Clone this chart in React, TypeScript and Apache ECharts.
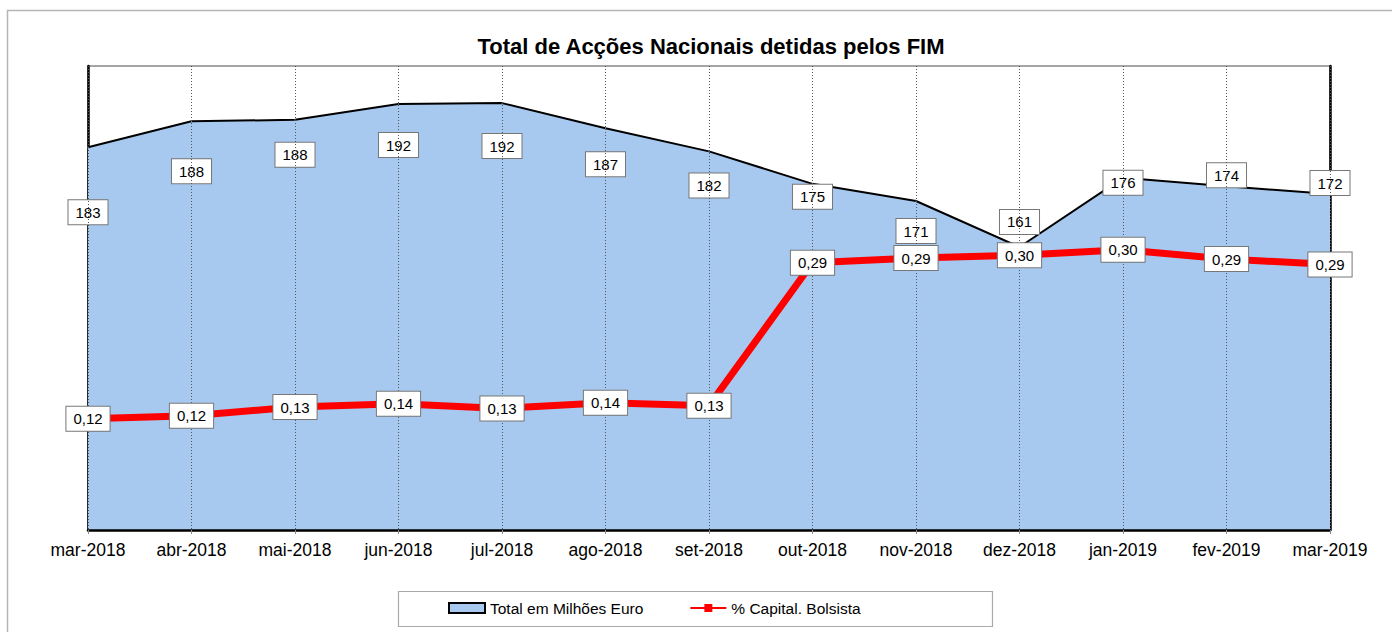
import React, { useEffect, useRef } from "react";
import * as echarts from "echarts";

const categories = [
  "mar-2018", "abr-2018", "mai-2018", "jun-2018", "jul-2018", "ago-2018", "set-2018",
  "out-2018", "nov-2018", "dez-2018", "jan-2019", "fev-2019", "mar-2019",
];
const totalValues = [182.5, 188.1, 188.4, 191.8, 192.0, 186.6, 181.6, 174.6, 170.9, 161.0, 175.9, 174.1, 172.4];
const capitalValues = [0.12, 0.123, 0.1325, 0.136, 0.131, 0.137, 0.134, 0.288, 0.293, 0.296, 0.302, 0.292, 0.286];
// vertical label offsets (px) relative to each point, as placed in the reference
const totalLabelDy = [65, 50, 35, 41, 43, 36, 34, 13, 30, -25, 5, -11, -11];

const FONT = "'Liberation Sans', Arial, Helvetica, sans-serif";

const labelBox = {
  show: true,
  position: "inside" as const,
  backgroundColor: "#ffffff",
  borderColor: "#777777",
  borderWidth: 1,
  padding: [4, 7, 3, 7],
  fontSize: 15,
  lineHeight: 17,
  color: "#000000",
  fontFamily: FONT,
};

export default function App() {
  const ref = useRef<HTMLDivElement>(null);
  useEffect(() => {
    if (!ref.current) return;
    const chart = echarts.init(ref.current, undefined, { renderer: "svg" });
    chart.setOption({
      animation: false,
      backgroundColor: "#ffffff",
      title: {
        text: "Total de Acções Nacionais detidas pelos FIM",
        left: 706,
        textAlign: "center",
        top: 30,
        textStyle: { fontSize: 22, fontWeight: "bold", color: "#000", fontFamily: FONT },
      },
      grid: {
        left: 88,
        right: 62,
        top: 66,
        bottom: 102,
        show: true,
        borderColor: "#888888",
        borderWidth: 1.5,
        backgroundColor: "transparent",
      },
      legend: {
        left: 448,
        top: 600,
        padding: 0,
        itemGap: 46,
        itemWidth: 36,
        itemHeight: 10,
        textStyle: { fontSize: 15.5, color: "#000", fontFamily: FONT },
        data: [
          {
            name: "Total em Milhões Euro",
            icon: "rect",
            itemStyle: { color: "#a7c9ef", borderColor: "#000", borderWidth: 2 },
          },
          { name: "% Capital. Bolsista" },
        ],
      },
      graphic: [
        {
          type: "rect",
          shape: { x: 7.5, y: 10.5, width: 1400, height: 640 },
          style: { fill: "none", stroke: "#b5b5b5", lineWidth: 1.5 },
          silent: true,
          z: -10,
        },
        {
          type: "rect",
          shape: { x: 398.5, y: 591.5, width: 594, height: 35 },
          style: { fill: "none", stroke: "#aaaaaa", lineWidth: 1.2 },
          silent: true,
        },
      ],
      xAxis: {
        type: "category",
        data: categories,
        boundaryGap: false,
        axisLine: { show: true, lineStyle: { color: "#000", width: 2.5 } },
        axisTick: { show: true, length: 4, lineStyle: { color: "#888" } },
        axisLabel: { fontSize: 17.5, color: "#000", margin: 11, fontFamily: FONT, interval: 0 },
        splitLine: { show: true, lineStyle: { color: "#555", width: 1, type: [1, 2] } },
        z: 5,
      },
      yAxis: [
        {
          type: "value",
          min: 100,
          max: 200,
          axisLine: { show: true, lineStyle: { color: "#000", width: 2.5 } },
          axisTick: { show: false },
          axisLabel: { show: false },
          splitLine: { show: false },
        },
        {
          type: "value",
          min: 0,
          max: 0.5,
          position: "right",
          axisLine: { show: true, lineStyle: { color: "#000", width: 2.5 } },
          axisTick: { show: false },
          axisLabel: { show: false },
          splitLine: { show: false },
        },
      ],
      series: [
        {
          name: "Total em Milhões Euro",
          type: "line",
          yAxisIndex: 0,
          symbol: "circle",
          symbolSize: 1,
          showSymbol: true,
          itemStyle: { color: "#a7c9ef" },
          lineStyle: { color: "#000", width: 2 },
          areaStyle: { color: "#a7c9ef", opacity: 1 },
          z: 1,
          data: totalValues.map((v, i) => ({
            value: v,
            label: {
              ...labelBox,
              offset: [0, totalLabelDy[i]],
              formatter: () => String(Math.round(v)),
            },
          })),
        },
        {
          name: "% Capital. Bolsista",
          type: "line",
          yAxisIndex: 1,
          symbol: "rect",
          symbolSize: 10,
          showSymbol: true,
          itemStyle: { color: "#ff0000" },
          lineStyle: { color: "#ff0000", width: 7 },
          z: 10,
          label: {
            ...labelBox,
            formatter: (p: any) => Number(p.value).toFixed(2).replace(".", ","),
          },
          data: capitalValues,
        },
      ],
    });
    return () => chart.dispose();
  }, []);
  return (
    <div
      ref={ref}
      style={{ position: "fixed", left: 0, top: 0, width: 1392, height: 632 }}
    />
  );
}
